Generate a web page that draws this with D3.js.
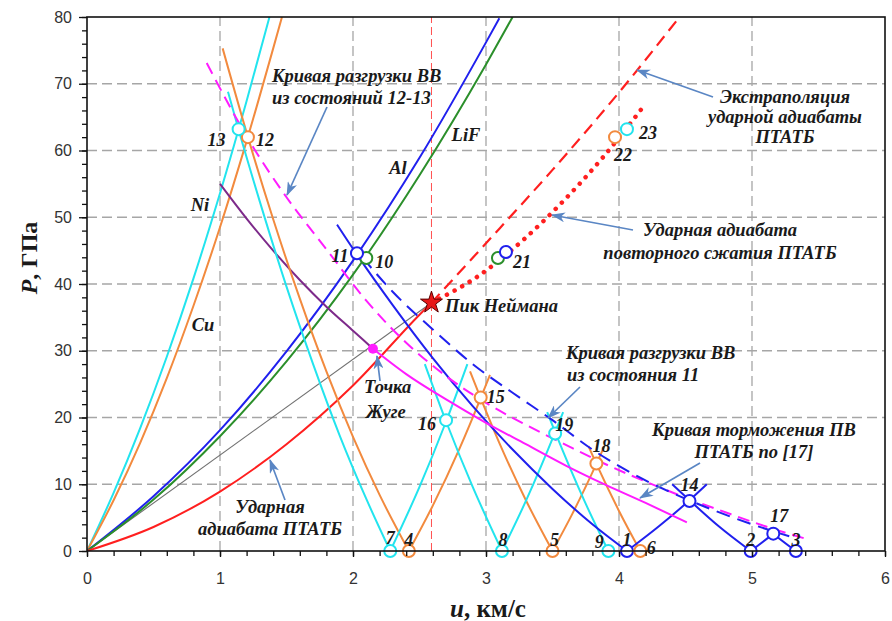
<!DOCTYPE html>
<html>
<head>
<meta charset="utf-8">
<script src="https://d3js.org/d3.v7.min.js"></script>
<style>
  body { margin: 0; background: #fff; }
  .note { font-family: "Liberation Serif", "Times New Roman", serif; font-weight: bold; font-style: italic; font-size: 18.5px; fill: #1a1a1a; }
  .num { font-size: 18px; }
  .tick text { font-family: "Liberation Sans", Arial, sans-serif; font-size: 16px; fill: #333; }
</style>
</head>
<body>
<svg width="892" height="621"></svg>
<script>
// ---- data (u, km/s ; P, GPa) ----
var uTicks = [0, 1, 2, 3, 4, 5, 6];
var pTicks = [0, 10, 20, 30, 40, 50, 60, 70, 80];

// shock adiabats from origin
var niHug  = [[0,0],[0.2,8.7],[0.4,18.4],[0.6,29.1],[0.8,40.8],[1.0,53.6],[1.2,67.4],[1.372,80]];
var cuHug  = [[0,0],[0.2,7.6],[0.4,16.2],[0.6,25.9],[0.8,36.7],[1.0,48.5],[1.2,61.4],[1.4,75.3],[1.466,80]];
var alHug  = [[0,0],[0.5,8.2],[1.0,18.1],[1.5,29.9],[2.0,43.5],[2.5,58.9],[3.0,76.2],[3.1,79.8]];
var lifHug = [[0,0],[0.5,7.7],[1.0,17.2],[1.5,28.4],[2.0,41.4],[2.5,56.3],[3.0,72.9],[3.2,80]];
var hePtatb = [[0,0],[0.5,3.6],[1.0,8.9],[1.5,16.0],[2.0,24.8],[2.5,35.4],[2.59,37.2]];
var rayleigh = [[0,0],[2.59,37.2]];
var heExtrap = [[2.59,37.2],[3.0,46.1],[3.5,57.1],[4.0,68.7],[4.455,80]];
var heRecomp = [[2.59,37.2],[2.95,41.3],[3.28,46.6],[3.59,52.6],[3.88,59.0],[4.18,66.5]];
var purpleIse = [[1.0,55.0],[1.2,49.8],[1.4,45.0],[1.6,40.6],[1.8,36.6],[2.0,33.0],[2.15,30.3]];
var decelCurve = [[2.15,30.3],[2.4,26.5],[2.7,22.7],[3.0,19.2],[3.3,16.0],[3.6,12.8],[3.9,9.9],[4.2,7.2],[4.51,4.3]];
var unload1213 = [[0.9,73.1],[1.24,60.8],[1.5,53.0],[1.8,45.2],[2.1,37.5],[2.4,31.2],[2.7,26.2],[3.0,22.2],[3.3,18.9],[3.6,15.9],[3.9,13.0],[4.2,10.4],[4.5,8.0],[4.8,5.8],[5.1,3.7],[5.41,1.8]];
var unload11 = [[2.07,44.0],[2.3,38.8],[2.6,33.2],[2.9,28.0],[3.2,23.7],[3.5,19.6],[3.8,15.2],[4.1,11.6],[4.4,8.7],[4.7,6.2],[5.0,4.0],[5.28,2.2]];

// reverberation segments
var cuWaves = [
  [[1.02,75.3],[1.21,62.0],[1.4,49.7],[1.6,37.8],[1.8,26.9],[2.0,17.1],[2.2,8.4],[2.42,0]],
  [[2.42,0],[2.6,6.8],[2.8,15.3],[2.96,22.9],[3.03,26.4]],
  [[2.88,26.9],[2.96,22.9],[3.1,16.2],[3.3,7.6],[3.5,0]],
  [[3.5,0],[3.65,5.6],[3.83,13.05],[3.89,15.7]],
  [[3.77,15.7],[3.83,13.05],[4.0,6.0],[4.16,0]]
];
var niWaves = [
  [[1.06,68.8],[1.14,63.1],[1.3,52.3],[1.5,39.6],[1.7,28.0],[1.9,17.3],[2.1,7.8],[2.28,0]],
  [[2.28,0],[2.5,9.6],[2.7,19.4],[2.86,28.0]],
  [[2.54,28.0],[2.7,19.4],[2.9,9.6],[3.12,0]],
  [[3.12,0],[3.3,7.5],[3.52,17.8],[3.58,20.8]],
  [[3.46,20.8],[3.52,17.8],[3.74,7.5],[3.92,0]]
];
var alWaves = [
  [[1.88,48.9],[2.03,44.4],[2.3,36.8],[2.6,28.9],[2.9,21.7],[3.2,15.2],[3.5,9.3],[3.8,4.0],[4.06,0]],
  [[4.06,0],[4.3,3.7],[4.53,7.6],[4.66,10.0]],
  [[4.4,10.0],[4.53,7.6],[4.75,3.7],[4.99,0]],
  [[4.99,0],[5.16,2.6],[5.19,3.1]],
  [[5.13,3.1],[5.16,2.6],[5.33,0]]
];

// numbered states: label, u, P, material
var states = [
  ["1",4.06,0,"al"],["2",4.99,0,"al"],["3",5.33,0,"al"],
  ["4",2.42,0,"cu"],["5",3.5,0,"cu"],["6",4.16,0,"cu"],
  ["7",2.28,0,"ni"],["8",3.12,0,"ni"],["9",3.92,0,"ni"],
  ["10",2.1,43.9,"lif"],["11",2.03,44.6,"al"],["12",1.21,62.0,"cu"],["13",1.14,63.2,"ni"],
  ["14",4.53,7.5,"al"],["15",2.96,23.0,"cu"],["16",2.7,19.6,"ni"],["17",5.16,2.6,"al"],
  ["18",3.83,13.1,"cu"],["19",3.52,17.6,"ni"],
  ["",3.09,43.9,"lif"],["21",3.15,44.8,"al"],["22",3.97,62.0,"cu"],["23",4.06,63.2,"ni"]
];
// label offsets (px) for state numbers
var stateLabelOffset = {
  "1":[0,-11],"2":[0,-11],"3":[0,-11],"4":[0,-11],"5":[2,-11],"6":[11,-3],
  "7":[0,-13],"8":[1,-11],"9":[-9,-9],"10":[18,4],"11":[-17,3],"12":[17,3],
  "13":[-22,11],"14":[0,-16],"15":[15,0],"16":[-19,4],"17":[6,-18],"18":[5,-18],
  "19":[9,-9],"21":[16,10],"22":[8,18],"23":[21,4]
};

var jouguet = [2.15, 30.3];
var neumann = [2.59, 37.2];

var colors = { ni: "#22e4ee", cu: "#f28a3e", al: "#2020ee", lif: "#2b8f2b", red: "#ff1f1f",
               mag: "#ff1cff", purple: "#7d2a8a", arrow: "#5a86c4", grid: "#a6a6a6" };

// ---- chart ----
var svg = d3.select("svg");
var x = d3.scaleLinear().domain([0, 6]).range([87, 885]);
var y = d3.scaleLinear().domain([0, 80]).range([551, 17]);

svg.append("defs").append("clipPath").attr("id", "clip")
  .append("rect").attr("x", 87).attr("y", 17).attr("width", 798).attr("height", 534);
var marker = svg.select("defs").append("marker")
  .attr("id", "arr").attr("markerUnits", "userSpaceOnUse")
  .attr("markerWidth", 14).attr("markerHeight", 10).attr("refX", 13).attr("refY", 5)
  .attr("orient", "auto");
marker.append("path").attr("d", "M0,0 L14,5 L0,10 L4,5 z").attr("fill", colors.arrow);

// grid
var grid = svg.append("g");
grid.selectAll(".gv").data([1, 2, 3, 4, 5]).enter().append("line")
  .attr("x1", d => x(d)).attr("x2", d => x(d)).attr("y1", y(0)).attr("y2", y(80))
  .attr("stroke", colors.grid).attr("stroke-width", 1.3).attr("stroke-dasharray", "10,5");
grid.selectAll(".gh").data([10, 20, 30, 40, 50, 60, 70]).enter().append("line")
  .attr("x1", x(0)).attr("x2", x(6)).attr("y1", d => y(d)).attr("y2", d => y(d))
  .attr("stroke", colors.grid).attr("stroke-width", 1.3).attr("stroke-dasharray", "10,5");

var plot = svg.append("g").attr("clip-path", "url(#clip)");
plot.append("line").attr("x1", x(neumann[0])).attr("x2", x(neumann[0])).attr("y1", y(0)).attr("y2", y(80))
  .attr("stroke", "#ff5050").attr("stroke-width", 1).attr("stroke-dasharray", "8,4");

var line = d3.line().x(d => x(d[0])).y(d => y(d[1])).curve(d3.curveMonotoneX);
function draw(data, color, w, dash) {
  var p = plot.append("path").attr("d", line(data)).attr("fill", "none")
    .attr("stroke", color).attr("stroke-width", w);
  if (dash) p.attr("stroke-dasharray", dash);
  return p;
}

draw(rayleigh, "#707070", 1.1);
draw(niHug, colors.ni, 2);
draw(cuHug, colors.cu, 2);
draw(alHug, colors.al, 2);
draw(lifHug, colors.lif, 2);
draw(hePtatb, colors.red, 2);
draw(purpleIse, colors.purple, 2);
cuWaves.forEach(s => draw(s, colors.cu, 2));
niWaves.forEach(s => draw(s, colors.ni, 2));
alWaves.forEach(s => draw(s, colors.al, 2));
draw(decelCurve, colors.mag, 2);
draw(unload1213, colors.mag, 2, "12,7");
draw(unload11, colors.al, 2, "14,8");
draw(heExtrap, colors.red, 2.2, "12,7");
draw(heRecomp, colors.red, 4.5, "0.1,8.6").attr("stroke-linecap", "round");

// state markers
var mcol = { ni: colors.ni, cu: colors.cu, al: colors.al, lif: colors.lif };
svg.append("g").selectAll("circle").data(states).enter().append("circle")
  .attr("cx", d => x(d[1])).attr("cy", d => y(d[2])).attr("r", 6)
  .attr("fill", "white").attr("stroke", d => mcol[d[3]]).attr("stroke-width", 2);
svg.append("g").selectAll("text").data(states.filter(d => d[0] !== "")).enter().append("text")
  .attr("class", "note num").attr("text-anchor", "middle").attr("dominant-baseline", "central")
  .attr("x", d => x(d[1]) + stateLabelOffset[d[0]][0])
  .attr("y", d => y(d[2]) + stateLabelOffset[d[0]][1])
  .text(d => d[0]);

svg.append("circle").attr("cx", x(jouguet[0])).attr("cy", y(jouguet[1])).attr("r", 5).attr("fill", colors.mag);
svg.append("path").attr("d", d3.symbol().type(d3.symbolStar).size(150)())
  .attr("transform", "translate(" + x(neumann[0]) + "," + y(neumann[1]) + ")")
  .attr("fill", "#e81818").attr("stroke", "#5a0000").attr("stroke-width", 1);

// annotations
var notes = [
  ["Cu", 203, 331, "middle"], ["Ni", 200, 211, "middle"], ["Al", 398, 174, "middle"], ["LiF", 466, 141, "middle"],
  ["Кривая разгрузки ВВ", 272, 82, "start"], ["из состояний 12-13", 272, 104, "start"],
  ["Экстраполяция", 785, 103, "middle"], ["ударной адиабаты", 785, 123, "middle"], ["ПТАТБ", 785, 143, "middle"],
  ["Ударная адиабата", 720, 236, "middle"], ["повторного сжатия ПТАТБ", 720, 259, "middle"],
  ["Пик Неймана", 445, 312, "start"],
  ["Точка", 364, 393, "start"], ["Жуге", 366, 418, "start"],
  ["Кривая разгрузки ВВ", 566, 359, "start"], ["из состояния 11", 567, 381, "start"],
  ["Кривая торможения ПВ", 754, 436, "middle"], ["ПТАТБ по [17]", 754, 458, "middle"],
  ["Ударная", 270, 513, "middle"], ["адиабата ПТАТБ", 270, 535, "middle"]
];
svg.append("g").selectAll("text").data(notes).enter().append("text")
  .attr("class", "note").attr("x", d => d[1]).attr("y", d => d[2])
  .attr("text-anchor", d => d[3]).text(d => d[0]);

var arrows = [
  [327,107,287,195],[713,97,637,70],[633,230,552,215],[380,381,377,356],
  [580,387,548,418],[700,463,640,498],[285,500,270,460]
];
svg.append("g").selectAll("line").data(arrows).enter().append("line")
  .attr("x1", d => d[0]).attr("y1", d => d[1]).attr("x2", d => d[2]).attr("y2", d => d[3])
  .attr("stroke", colors.arrow).attr("stroke-width", 1.7).attr("marker-end", "url(#arr)");

// axes
var minorU = d3.range(0, 6.001, 0.2).map(v => +v.toFixed(1));
var minorP = d3.range(0, 80.001, 2);
svg.append("g").attr("transform", "translate(0," + y(0) + ")")
  .call(d3.axisBottom(x).tickValues(minorU).tickSize(5).tickFormat(""))
  .call(g => g.select(".domain").remove());
svg.append("g").attr("transform", "translate(0," + y(0) + ")")
  .call(d3.axisBottom(x).tickValues(uTicks).tickSize(6).tickPadding(16).tickFormat(d3.format("d")))
  .call(g => g.select(".domain").remove());
svg.append("g").attr("transform", "translate(" + x(0) + ",0)")
  .call(d3.axisLeft(y).tickValues(minorP).tickSize(5).tickFormat(""))
  .call(g => g.select(".domain").remove());
svg.append("g").attr("transform", "translate(" + x(0) + ",0)")
  .call(d3.axisLeft(y).tickValues(pTicks).tickSize(8).tickPadding(7).tickFormat(d3.format("d")))
  .call(g => g.select(".domain").remove());
svg.selectAll(".tick line").attr("stroke", "#111").attr("stroke-width", 1.3);

svg.append("rect").attr("x", 87).attr("y", 17).attr("width", 798).attr("height", 534)
  .attr("fill", "none").attr("stroke", "#111").attr("stroke-width", 1.6);

// axis titles
var yt = svg.append("text").attr("transform", "translate(37,258) rotate(-90)")
  .attr("text-anchor", "middle")
  .style("font-family", "'Liberation Serif', 'Times New Roman', serif")
  .style("font-weight", "bold").style("font-size", "24px").attr("fill", "#1a1a1a");
yt.append("tspan").style("font-style", "italic").text("P");
yt.append("tspan").text(", ГПа");

var xt = svg.append("text").attr("x", 488).attr("y", 617).attr("text-anchor", "middle")
  .style("font-family", "'Liberation Serif', 'Times New Roman', serif")
  .style("font-weight", "bold").style("font-size", "25px").attr("fill", "#1a1a1a");
xt.append("tspan").style("font-style", "italic").text("u");
xt.append("tspan").text(", км/с");
</script>
</body>
</html>
